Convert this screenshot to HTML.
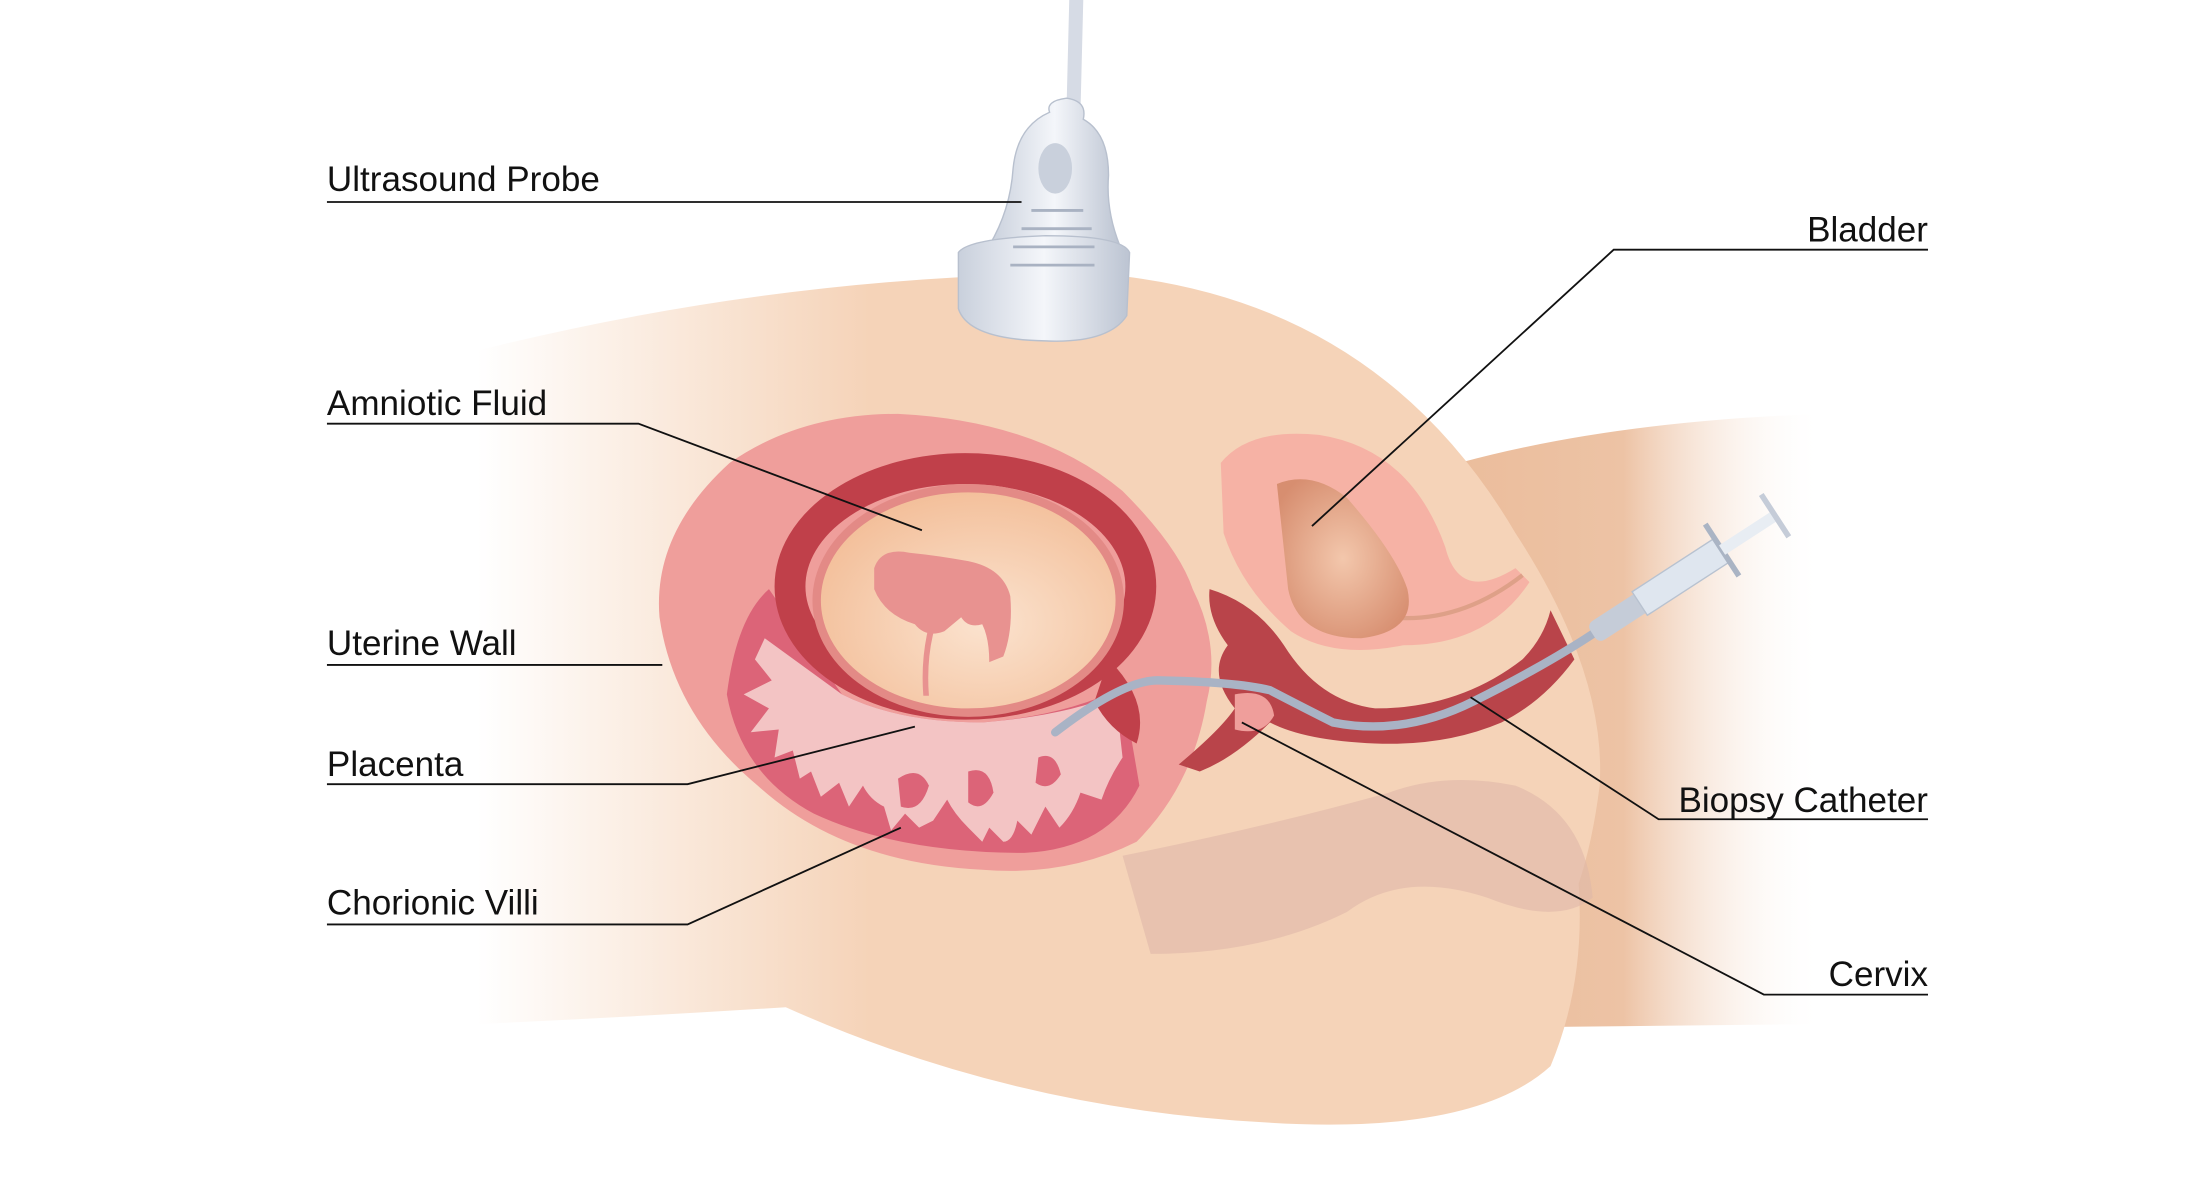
<!DOCTYPE html>
<html><head><meta charset="utf-8"><style>
html,body{margin:0;padding:0;background:#fff;width:2189px;height:1191px;overflow:hidden}
svg{display:block}
text{font-family:"Liberation Sans",sans-serif;font-size:25px;fill:#111}
</style></head><body>
<svg width="2189" height="1191" viewBox="0 0 1560 849" preserveAspectRatio="none" xmlns="http://www.w3.org/2000/svg">
<defs>
<linearGradient id="bodyL" gradientUnits="userSpaceOnUse" x1="340" x2="620" y1="0" y2="0">
<stop offset="0" stop-color="#f5d3b8" stop-opacity="0"/>
<stop offset="1" stop-color="#f5d3b8"/>
</linearGradient>
<linearGradient id="legR" x1="0" x2="1" y1="0" y2="0">
<stop offset="0" stop-color="#ebbd9c"/>
<stop offset="0.45" stop-color="#edc3a5"/>
<stop offset="1" stop-color="#fff" stop-opacity="0"/>
</linearGradient>
<radialGradient id="amn" cx="0.55" cy="0.6" r="0.6">
<stop offset="0" stop-color="#fbe3cf"/>
<stop offset="1" stop-color="#f3bf9a"/>
</radialGradient>
<radialGradient id="bld" cx="0.5" cy="0.5" r="0.6">
<stop offset="0" stop-color="#f3c7ac"/>
<stop offset="1" stop-color="#d78e70"/>
</radialGradient>
<linearGradient id="probe" x1="0" x2="1">
<stop offset="0" stop-color="#c9d0dc"/>
<stop offset="0.5" stop-color="#f4f6fa"/>
<stop offset="1" stop-color="#bcc4d2"/>
</linearGradient>
</defs>
<path d="M1040 330 Q1150 300 1300 295 L1300 730 L1110 732 Z" fill="url(#legR)"/>
<path d="M340 250 Q560 195 780 195 Q980 210 1080 380 Q1145 480 1140 560 Q1135 600 1125 630 Q1130 700 1105 760 Q1050 810 900 800 Q720 790 560 718 Q450 725 340 730 Z" fill="url(#bodyL)"/>
<path d="M800 610 Q900 590 990 565 Q1030 550 1080 560 Q1130 580 1135 640 Q1110 660 1060 640 Q1000 620 960 650 Q900 680 820 680 Z" fill="#e0b8a8" opacity="0.6"/>
<path d="M870 330 Q890 305 940 310 Q1005 320 1030 390 Q1040 430 1080 405 L1090 415 Q1060 460 1000 460 Q950 470 920 450 Q885 420 872 380 Z" fill="#f6b2a5"/>
<path d="M990 440 Q1040 445 1085 410" stroke="#dea088" stroke-width="3" fill="none"/>
<path d="M910 345 Q935 335 960 355 Q995 395 1003 420 Q1010 450 970 455 Q925 455 918 420 Z" fill="url(#bld)"/>
<path d="M470 440 Q465 380 520 330 Q570 295 640 295 Q740 300 800 350 Q840 390 850 420 Q870 460 860 500 Q850 560 810 600 Q760 625 700 620 Q600 615 540 560 Q480 510 470 440 Z" fill="#ef9e9b"/>
<path d="M518 495 Q525 440 548 420 L600 495 Q640 515 700 515 Q760 510 800 490 L812 560 Q790 605 730 608 Q640 608 580 580 Q528 552 518 495 Z" fill="#dc6478"/>
<path d="M545 455 L600 495 Q640 515 700 515 Q760 510 795 495 L800 540 Q790 555 785 570 L770 565 Q765 580 755 590 L745 575 L735 595 L725 585 Q722 600 715 600 L705 590 L700 600 L690 590 Q680 580 675 570 L665 585 L655 590 L645 580 L635 592 L630 575 Q620 570 615 560 L605 575 L598 558 L585 568 L578 550 L570 555 L565 535 L552 540 L555 520 L535 522 L548 505 L530 495 L550 485 L538 470 Z" fill="#f3c4c4"/>
<g fill="#dc6478">
<path d="M640 555 Q655 545 662 560 Q656 580 642 575 Z"/>
<path d="M690 550 Q705 545 708 565 Q700 580 690 572 Z"/>
<path d="M740 540 Q752 535 756 552 Q748 565 738 558 Z"/>
</g>
<ellipse cx="688" cy="418" rx="125" ry="84" fill="none" stroke="#c0404a" stroke-width="22"/>
<path d="M790 470 Q820 500 810 530 Q790 520 780 500 Z" fill="#c0404a"/>
<ellipse cx="690" cy="428" rx="108" ry="80" fill="url(#amn)" stroke="#e38a86" stroke-width="6"/>
<path d="M623 405 Q628 390 648 394 Q668 396 690 400 Q715 405 720 425 Q722 450 715 468 L705 472 Q705 455 700 445 Q690 448 685 440 L673 450 Q660 455 652 445 Q630 438 623 420 Z" fill="#e89290"/>
<path d="M666 448 Q660 470 662 496 L658 496 Q656 470 662 446 Z" fill="#e89290"/>
<path d="M862 420 Q895 430 915 460 Q940 500 980 505 Q1040 505 1085 470 Q1100 455 1105 435 L1122 470 Q1100 500 1070 515 Q1030 532 980 530 Q930 528 905 515 Q880 540 855 550 L840 545 Q870 520 880 505 Q860 480 875 460 Q860 440 862 420 Z" fill="#b9444a"/>
<path d="M880 495 Q905 490 908 510 Q900 525 880 520 Z" fill="#ef9e9b"/>
<path d="M752 522 Q800 485 825 485 Q880 486 905 492 Q930 505 950 515 Q1000 525 1050 500 Q1100 475 1135 452" fill="none" stroke="#a9b3c5" stroke-width="6" stroke-linecap="round"/>
<g transform="translate(1135,452) rotate(-33)">
<rect x="0" y="-8" width="45" height="16" rx="5" fill="#c5ccd8"/>
<rect x="40" y="-10" width="70" height="20" fill="#dfe6ef" stroke="#b8c2d0"/>
<rect x="108" y="-22" width="4" height="44" fill="#aab4c4"/>
<rect x="110" y="-4" width="45" height="8" fill="#e8edf3"/>
<rect x="153" y="-18" width="4" height="36" fill="#c5ccd8"/>
</g>
<path d="M762 0 L772 0 L770 80 L760 80 Z" fill="#d6dbe5"/>
<path d="M748 80 Q745 72 760 70 Q775 72 772 85 Q790 95 790 125 Q788 150 798 175 L705 175 Q720 150 722 120 Q725 90 748 80 Z" fill="url(#probe)" stroke="#b8c0ce"/>
<ellipse cx="752" cy="120" rx="12" ry="18" fill="#c9d0dc"/>
<path d="M683 180 Q690 170 745 168 Q800 168 805 180 L803 225 Q790 245 745 243 Q690 242 683 220 Z" fill="url(#probe)" stroke="#b8c0ce"/>
<g stroke="#a9b2c2" stroke-width="2">
<line x1="735" y1="150" x2="772" y2="150"/><line x1="728" y1="163" x2="778" y2="163"/>
<line x1="722" y1="176" x2="780" y2="176"/><line x1="720" y1="189" x2="780" y2="189"/>
</g>
<g stroke="#111" stroke-width="1.3" fill="none">
<polyline points="233,144 728,144"/>
<polyline points="1374,178 1150,178 935,375"/>
<polyline points="233,302 455,302 657,378"/>
<polyline points="233,474 472,474"/>
<polyline points="233,559 490,559 652,518"/>
<polyline points="233,659 490,659 642,590"/>
<polyline points="1374,584 1182,584 1048,497"/>
<polyline points="1374,709 1257,709 885,515"/>
</g>
<text x="233" y="136">Ultrasound Probe</text>
<text x="1374" y="172" text-anchor="end">Bladder</text>
<text x="233" y="296">Amniotic Fluid</text>
<text x="233" y="467">Uterine Wall</text>
<text x="233" y="553">Placenta</text>
<text x="233" y="652">Chorionic Villi</text>
<text x="1374" y="579" text-anchor="end">Biopsy Catheter</text>
<text x="1374" y="703" text-anchor="end">Cervix</text>
</svg>
</body></html>
